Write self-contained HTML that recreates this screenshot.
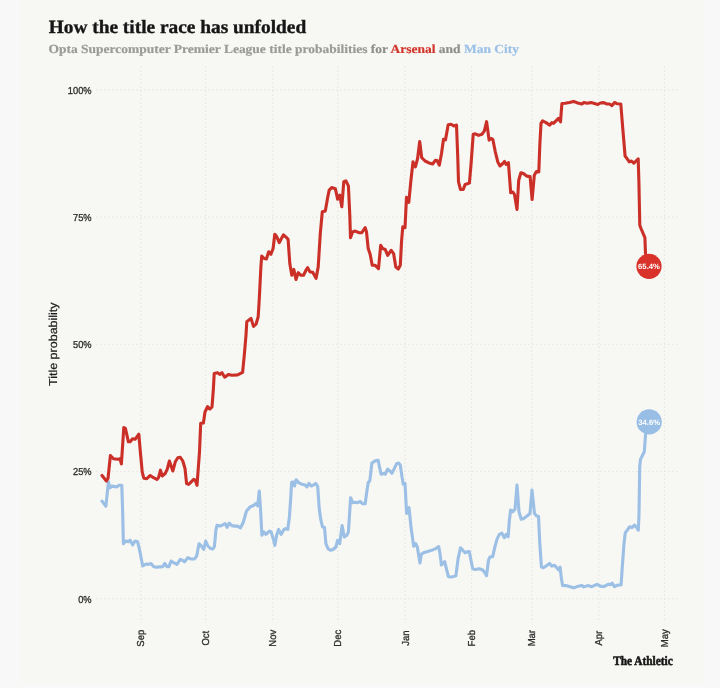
<!DOCTYPE html>
<html><head><meta charset="utf-8"><title>How the title race has unfolded</title>
<style>
html,body{margin:0;padding:0}
body{width:720px;height:688px;background:#f8f8f8;overflow:hidden;position:relative;font-family:"Liberation Sans",sans-serif}
#panel{position:absolute;left:20px;top:0;width:684px;height:684px;background:#f7f7f3}
svg{position:absolute;left:0;top:0;will-change:transform;text-rendering:geometricPrecision}
.t{font-family:"Liberation Serif",serif;font-weight:bold}
</style></head><body>
<div id="panel"></div>
<svg width="720" height="688" viewBox="0 0 720 688">
<text class="t" x="48.7" y="32.6" font-size="18.8" fill="#161616" stroke="#161616" stroke-width="0.35" textLength="257.5" lengthAdjust="spacingAndGlyphs">How the title race has unfolded</text>
<text class="t" x="48.5" y="52.6" font-size="12.3" fill="#9a9a98" stroke="#9a9a98" stroke-width="0.2" textLength="470.5" lengthAdjust="spacingAndGlyphs">Opta Supercomputer Premier League title probabilities <tspan fill="#8e8e8c" stroke="#8e8e8c">for</tspan> <tspan fill="#d2352b" stroke="#d2352b">Arsenal</tspan> <tspan fill="#8e8e8c" stroke="#8e8e8c">and</tspan> <tspan fill="#9cc1e6" stroke="#9cc1e6">Man City</tspan></text>
<g stroke="#e4e4e0" stroke-width="1.1" stroke-dasharray="1.3 2.7" fill="none"><line x1="141.0" y1="66.6" x2="141.0" y2="623"/><line x1="205.6" y1="66.6" x2="205.6" y2="623"/><line x1="272.8" y1="66.6" x2="272.8" y2="623"/><line x1="337.9" y1="66.6" x2="337.9" y2="623"/><line x1="405.2" y1="66.6" x2="405.2" y2="623"/><line x1="471.6" y1="66.6" x2="471.6" y2="623"/><line x1="531.7" y1="66.6" x2="531.7" y2="623"/><line x1="598.7" y1="66.6" x2="598.7" y2="623"/><line x1="664.4" y1="66.6" x2="664.4" y2="623"/><line x1="96.2" y1="89.9" x2="677.5" y2="89.9"/><line x1="96.2" y1="217.1" x2="677.5" y2="217.1"/><line x1="96.2" y1="344.3" x2="677.5" y2="344.3"/><line x1="96.2" y1="471.5" x2="677.5" y2="471.5"/><line x1="96.2" y1="598.7" x2="677.5" y2="598.7"/></g>
<g font-size="10.1" fill="#2c2c2c" stroke="#2c2c2c" stroke-width="0.3" font-family="Liberation Sans, sans-serif"><text transform="translate(144.3 638.2) rotate(-90) scale(0.94 1)" text-anchor="middle">Sep</text><text transform="translate(208.9 638.2) rotate(-90) scale(0.94 1)" text-anchor="middle">Oct</text><text transform="translate(276.1 638.2) rotate(-90) scale(0.94 1)" text-anchor="middle">Nov</text><text transform="translate(341.2 638.2) rotate(-90) scale(0.94 1)" text-anchor="middle">Dec</text><text transform="translate(408.5 638.2) rotate(-90) scale(0.94 1)" text-anchor="middle">Jan</text><text transform="translate(474.9 638.2) rotate(-90) scale(0.94 1)" text-anchor="middle">Feb</text><text transform="translate(535.0 638.2) rotate(-90) scale(0.94 1)" text-anchor="middle">Mar</text><text transform="translate(602.0 638.2) rotate(-90) scale(0.94 1)" text-anchor="middle">Apr</text><text transform="translate(667.7 638.2) rotate(-90) scale(0.94 1)" text-anchor="middle">May</text><text transform="translate(91.6 93.8) scale(0.92 1)" text-anchor="end">100%</text><text transform="translate(91.6 221.0) scale(0.92 1)" text-anchor="end">75%</text><text transform="translate(91.6 348.2) scale(0.92 1)" text-anchor="end">50%</text><text transform="translate(91.6 475.4) scale(0.92 1)" text-anchor="end">25%</text><text transform="translate(91.6 602.6) scale(0.92 1)" text-anchor="end">0%</text></g>
<text transform="translate(56.6 344.2) rotate(-90)" text-anchor="middle" font-size="11.5" fill="#1e1e1e" stroke="#1e1e1e" stroke-width="0.2" textLength="83.6" lengthAdjust="spacingAndGlyphs" font-family="Liberation Sans, sans-serif">Title probability</text>
<path d="M102.0 501.1 L105.9 506.2 L108.4 481.9 L110.0 487.8 L111.7 486.1 L116.7 486.9 L119.2 485.3 L121.8 485.3 L122.6 510.3 L123.4 543.8 L125.9 541.0 L128.4 541.8 L130.1 540.1 L132.6 544.8 L135.1 541.0 L137.6 541.8 L139.3 548.5 L142.7 566.0 L146.0 564.0 L148.5 564.4 L151.0 563.5 L153.5 566.6 L156.0 567.2 L159.4 566.9 L162.7 566.6 L164.9 563.5 L166.9 566.6 L168.9 566.6 L171.1 561.0 L173.6 562.7 L176.9 564.4 L180.3 559.4 L182.0 559.9 L184.5 561.9 L187.8 557.7 L191.2 559.0 L194.5 558.9 L196.7 556.0 L199.0 543.8 L200.7 545.2 L203.7 549.3 L205.7 541.0 L207.9 546.0 L210.4 548.5 L212.9 549.0 L214.4 546.5 L215.9 530.3 L217.0 525.3 L220.0 526.1 L222.6 524.9 L225.1 523.6 L227.1 527.3 L229.2 523.2 L231.8 525.6 L235.1 526.1 L237.6 526.1 L240.5 527.8 L243.1 522.7 L246.5 511.0 L250.2 506.9 L253.5 505.5 L256.0 503.5 L257.7 506.0 L259.3 491.0 L260.5 508.5 L261.9 535.3 L263.9 531.9 L266.0 534.4 L269.4 531.1 L271.1 531.9 L273.2 538.6 L274.9 545.3 L276.6 535.3 L278.6 529.4 L281.1 534.4 L283.6 529.9 L285.6 528.6 L287.8 529.4 L289.4 516.9 L290.6 500.2 L291.6 482.6 L292.8 481.8 L294.5 486.0 L296.1 479.8 L298.6 482.6 L302.0 484.3 L305.3 485.1 L307.0 486.8 L309.0 483.4 L311.2 486.0 L313.7 484.8 L315.7 483.4 L317.7 486.4 L319.2 508.5 L320.9 520.2 L322.5 526.9 L324.5 527.3 L325.9 543.6 L328.0 548.7 L330.4 550.3 L333.1 549.5 L335.9 547.0 L337.6 540.3 L339.7 543.6 L342.1 525.6 L344.3 537.0 L346.8 535.3 L348.4 531.9 L349.6 513.5 L350.6 497.7 L352.6 502.7 L355.1 502.2 L357.6 502.7 L360.2 501.5 L362.7 503.8 L365.2 503.8 L366.8 491.8 L368.2 482.6 L369.8 480.9 L371.9 463.0 L375.2 460.9 L378.2 460.4 L379.4 466.7 L381.1 474.2 L383.6 473.4 L385.2 474.2 L387.7 469.2 L389.9 470.9 L391.9 473.4 L394.4 468.4 L396.6 463.7 L398.6 463.0 L400.3 465.0 L402.0 476.8 L403.3 484.3 L405.0 483.4 L406.6 513.5 L409.0 507.7 L411.2 528.6 L413.7 546.2 L415.7 543.6 L417.3 547.0 L420.0 562.9 L421.2 554.5 L423.4 552.8 L427.0 551.7 L430.9 550.6 L435.9 548.6 L438.7 546.6 L440.0 553.6 L441.4 565.0 L444.7 561.6 L446.4 568.7 L448.4 576.7 L451.8 577.0 L455.9 575.7 L458.1 558.6 L460.5 547.8 L462.6 549.9 L465.1 552.8 L467.1 551.9 L469.3 551.6 L471.0 560.3 L472.7 568.7 L475.2 569.5 L479.3 568.7 L482.7 570.0 L484.9 572.8 L486.5 575.7 L488.5 560.3 L489.9 557.0 L492.7 556.6 L494.9 546.9 L497.2 538.6 L499.4 534.4 L501.9 533.2 L504.4 537.7 L506.1 534.4 L508.1 536.9 L509.4 520.2 L510.6 510.1 L512.8 511.8 L515.0 509.3 L517.0 485.1 L519.0 511.8 L521.2 519.3 L523.7 518.5 L527.0 516.0 L530.0 513.5 L532.0 490.1 L534.5 513.5 L536.7 516.0 L538.5 516.2 L539.7 541.8 L541.4 566.9 L543.4 567.7 L546.7 565.6 L549.7 563.5 L551.7 566.1 L554.2 565.2 L556.7 567.7 L558.7 569.9 L560.1 567.2 L561.4 578.6 L562.6 585.4 L565.9 585.6 L570.1 586.7 L573.8 587.9 L577.6 586.4 L581.5 585.4 L583.8 586.9 L587.7 585.6 L591.9 586.7 L596.9 584.4 L601.1 586.4 L604.4 586.4 L608.6 584.1 L610.3 584.8 L612.3 583.2 L614.4 586.7 L616.9 585.4 L621.1 584.8 L622.3 566.9 L624.0 543.5 L625.3 532.6 L627.3 530.1 L629.5 526.8 L632.0 527.6 L634.5 525.1 L636.7 527.6 L638.3 530.1 L639.0 515.0 L639.7 466.9 L640.5 459.4 L644.3 451.8 L645.5 435.1 L648.7 422.5" fill="none" stroke="#9bbfe5" stroke-width="3.1" stroke-linejoin="round" stroke-linecap="round"/>
<path d="M102.0 475.5 L106.4 481.0 L108.0 478.5 L110.4 455.5 L113.4 458.8 L117.6 459.3 L120.0 458.8 L121.4 463.8 L123.8 427.5 L125.4 428.4 L128.4 441.8 L130.1 441.8 L132.6 438.8 L135.1 439.3 L138.8 434.2 L140.5 453.5 L142.2 471.9 L143.8 478.2 L146.8 478.6 L150.2 475.5 L153.5 477.7 L156.9 479.4 L158.5 477.7 L160.5 470.2 L162.2 476.0 L165.2 473.5 L167.2 469.4 L169.4 461.0 L172.8 471.0 L175.3 461.8 L177.8 457.7 L180.3 457.3 L182.8 461.0 L185.0 468.5 L186.6 483.6 L188.6 484.4 L191.2 481.9 L193.7 479.4 L195.3 480.2 L197.0 485.3 L199.5 451.8 L200.7 423.4 L203.4 423.0 L205.0 412.0 L207.5 406.7 L210.0 409.0 L212.0 407.0 L213.4 388.6 L214.2 373.6 L217.6 372.7 L220.0 374.4 L222.0 372.7 L224.7 377.2 L228.4 374.4 L231.8 375.2 L237.6 374.9 L242.6 372.4 L244.3 355.2 L246.0 335.1 L246.8 321.7 L251.0 318.4 L253.5 326.4 L256.0 324.2 L258.2 316.7 L259.2 300.3 L260.9 266.9 L261.7 256.0 L264.2 258.5 L266.4 258.9 L268.7 251.8 L270.9 254.3 L273.1 248.5 L274.8 234.3 L276.8 236.8 L279.3 242.6 L281.0 239.3 L283.5 234.8 L286.0 237.1 L288.1 239.3 L289.8 263.5 L291.8 275.3 L293.8 269.4 L296.0 279.4 L298.2 272.7 L301.0 275.3 L303.5 275.3 L306.0 270.2 L307.7 267.7 L309.9 271.9 L312.7 272.2 L316.1 278.3 L318.2 266.9 L320.3 233.4 L322.3 211.7 L325.3 210.9 L327.5 198.4 L329.2 190.1 L331.7 187.6 L335.4 188.7 L337.6 199.3 L339.7 195.1 L341.8 206.8 L343.8 181.7 L345.9 180.9 L348.4 185.9 L349.8 215.2 L350.5 237.7 L352.6 231.9 L355.1 231.1 L359.3 232.7 L361.8 232.7 L365.2 227.7 L366.5 231.9 L368.2 248.6 L370.2 254.5 L372.2 265.3 L375.2 265.3 L378.5 268.7 L380.7 245.3 L382.7 248.6 L385.2 249.4 L387.7 255.3 L391.1 250.3 L393.6 253.6 L395.8 267.0 L398.3 269.0 L400.3 265.3 L401.6 240.3 L402.8 226.9 L405.0 227.7 L406.5 197.3 L408.8 202.3 L410.8 181.5 L413.0 161.9 L415.4 166.9 L417.6 158.5 L419.7 141.5 L421.7 157.7 L425.1 161.0 L428.4 162.7 L432.6 164.0 L435.5 160.2 L437.1 160.5 L439.3 165.2 L441.5 153.5 L443.5 139.3 L445.5 139.8 L448.2 124.7 L451.0 124.2 L453.8 125.9 L456.5 125.1 L457.7 155.2 L458.5 181.9 L460.5 189.5 L463.2 189.5 L465.2 184.4 L469.4 183.1 L471.1 163.5 L473.2 134.3 L475.3 133.8 L478.6 135.4 L481.9 134.3 L484.4 130.9 L486.6 121.7 L489.1 140.1 L491.1 138.5 L492.8 139.3 L495.3 151.8 L497.8 161.9 L500.0 166.0 L502.8 163.5 L504.5 161.5 L506.2 164.4 L508.4 162.7 L509.5 176.9 L510.7 192.8 L512.9 192.0 L514.5 194.5 L517.0 209.5 L518.7 180.3 L520.9 172.8 L523.4 173.6 L526.7 176.1 L530.1 176.6 L532.1 199.5 L534.3 175.3 L536.4 171.6 L538.8 171.9 L539.8 145.2 L541.0 123.4 L542.6 120.9 L546.0 122.6 L549.8 125.1 L551.8 122.6 L553.5 123.4 L556.0 120.9 L558.5 118.4 L560.5 121.8 L561.9 103.5 L565.2 103.3 L569.4 102.5 L573.6 101.4 L577.7 103.0 L581.9 104.0 L583.9 102.5 L586.9 103.3 L591.1 102.6 L594.5 103.5 L597.8 104.5 L600.3 103.0 L603.7 102.6 L607.0 104.0 L609.5 104.0 L612.0 105.6 L614.5 102.5 L617.0 103.7 L620.8 104.0 L622.7 127.6 L625.1 156.0 L627.6 159.4 L629.3 161.9 L631.5 161.0 L633.8 163.2 L636.0 161.0 L638.2 158.9 L638.9 182.0 L639.8 225.2 L641.0 228.5 L644.9 237.7 L645.5 253.6 L648.7 266.1" fill="none" stroke="#cb3028" stroke-width="3.1" stroke-linejoin="round" stroke-linecap="round"/>
<circle cx="649.2" cy="421.9" r="12.6" fill="#98bee6"/>
<circle cx="649" cy="266.3" r="12.6" fill="#d9322a"/>
<g font-size="7.7" font-weight="bold" fill="#fff" text-anchor="middle" font-family="Liberation Sans, sans-serif">
<text x="649.2" y="425.2">34.6%</text>
<text x="649" y="269.2">65.4%</text>
</g>
<text class="t" x="613.2" y="664.6" font-size="13" fill="#141414" stroke="#141414" stroke-width="0.55" textLength="59.5" lengthAdjust="spacingAndGlyphs">The Athletic</text>
</svg>
</body></html>
